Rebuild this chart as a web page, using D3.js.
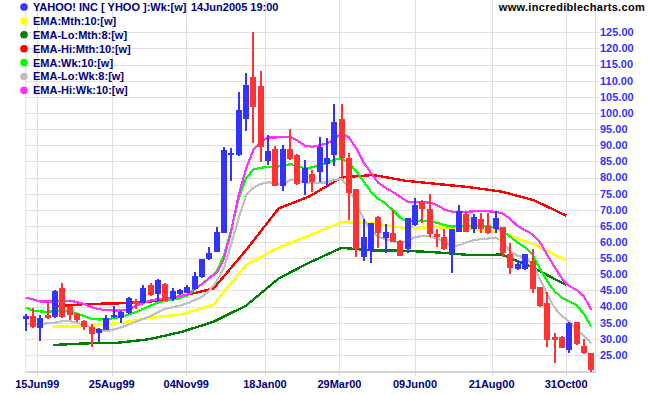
<!DOCTYPE html>
<html>
<head>
<meta charset="utf-8">
<script src="https://cdn.jsdelivr.net/npm/d3@7"></script>
<style>
  body { margin: 0; background: #fff; }
  svg { display: block; }
  text { font-family: "Liberation Sans", Arial, sans-serif; font-weight: bold; font-size: 11px; }
</style>
</head>
<body>
<svg id="svg"></svg>
<script>
// weekly YHOO bars, first week ending 04 Jun 1999
const firstWeek = "1999-06-04";
const openPx = [36.2,37.0,33.3,37.3,36.8,45.8,40.1,37.8,35.5,33.6,31.8,32.8,36.8,36.6,38.0,41.8,41.1,46.7,43.9,47.0,
  42.2,43.9,44.3,45.3,49.1,54.6,57.0,62.9,87.0,87.0,98.1,111.0,108.3,85.2,88.7,77.5,88.7,87.0,78.2,81.1,
  81.8,84.1,87.0,98.0,86.0,76.3,55.5,57.2,67.9,61.4,62.7,60.3,57.7,65.3,72.7,70.2,62.5,61.5,56.5,63.2,
  68.6,64.2,67.0,65.0,64.2,64.6,56.3,51.6,51.6,54.2,46.0,41.0,30.7,30.7,26.5,35.1,27.8,25.5];
const highPx = [37.6,39.5,37.3,41.5,45.0,47.4,40.3,38.0,35.9,34.7,33.3,37.3,40.1,38.5,43.0,42.3,46.7,47.2,48.4,47.2,
  45.9,45.3,46.7,50.8,54.8,58.6,64.8,89.6,89.0,106.6,112.3,125.0,113.0,93.2,89.9,90.1,95.0,87.2,85.4,82.3,
  92.6,92.1,102.8,102.7,87.5,76.5,67.0,66.0,68.1,65.5,70.0,60.5,67.5,73.8,72.9,74.8,64.2,64.2,64.2,71.5,
  69.4,68.7,69.1,69.1,69.7,64.8,59.6,54.4,56.4,57.7,46.2,44.6,31.9,30.9,35.3,35.3,30.0,25.7];
const lowPx = [32.4,33.4,29.3,36.2,36.6,36.6,35.9,35.2,32.6,27.4,29.0,32.6,36.6,34.9,37.8,39.4,41.0,43.3,41.8,41.6,
  41.8,43.6,44.1,45.1,48.9,54.4,56.8,62.7,78.9,86.8,94.5,90.6,84.9,83.9,77.3,75.9,85.4,77.7,74.6,75.6,
  78.7,77.1,83.5,80.3,66.8,55.5,54.2,53.6,58.3,56.5,59.9,55.6,56.5,65.1,65.8,61.7,58.6,57.6,50.3,63.0,
  63.0,62.7,62.7,62.5,62.7,55.5,50.1,51.4,51.4,44.1,40.0,27.6,22.6,27.1,25.7,28.2,25.3,19.8];
const closePx = [37.0,33.6,36.6,36.6,44.8,36.8,37.3,35.7,33.6,31.6,33.1,36.6,37.5,38.3,42.7,40.7,45.8,43.5,48.2,41.8,
  44.8,45.1,46.1,49.5,54.6,56.7,63.2,88.5,87.7,100.9,108.7,101.7,89.5,88.2,77.5,88.7,85.6,77.9,82.8,78.5,
  89.5,86.1,97.2,86.0,75.1,57.7,61.7,65.8,62.7,63.0,60.1,55.8,67.3,71.5,70.2,62.5,61.7,57.8,64.0,69.7,
  63.2,67.9,64.2,62.7,67.3,56.5,51.9,53.2,56.2,45.4,40.2,29.8,29.8,27.3,35.0,28.4,25.5,20.3];

// weekly EMAs
const emaWk10 = [39.7,38.8,38.5,38.4,38.6,38.8,38.5,37.8,37.0,36.2,36.0,36.1,36.4,36.9,37.5,38.3,39.3,40.3,41.2,41.8,
  42.2,42.6,43.4,45.3,47.0,48.9,50.8,56.0,63.9,73.5,79.8,82.5,83.0,83.3,83.3,83.6,84.2,83.6,82.8,83.2,
  83.8,84.3,85.5,85.9,84.5,82.0,78.8,75.6,73.4,72.0,69.8,67.5,66.3,66.5,66.7,66.3,66.0,65.3,64.8,64.9,
  65.0,65.1,65.0,64.9,64.6,63.2,61.6,59.8,58.3,56.0,51.8,47.9,44.7,42.8,41.6,40.5,37.7,33.8];
const emaLoWk8 = [34.5,34.5,34.6,34.8,35.0,35.5,35.5,35.0,34.3,33.5,32.8,32.4,32.9,33.6,34.4,35.3,36.2,37.1,38.3,39.3,
  39.8,40.3,41.0,42.0,43.0,45.0,47.8,52.0,59.5,67.5,74.5,76.8,78.0,78.5,78.3,77.8,79.2,79.3,78.4,78.2,
  78.4,78.5,79.2,79.6,76.8,71.8,67.2,63.5,61.7,60.9,60.3,59.7,60.4,61.5,61.9,61.8,61.1,60.2,58.6,59.0,
  59.9,60.6,60.9,61.1,61.4,60.0,57.0,55.8,55.1,53.3,48.6,43.7,39.6,37.1,35.4,32.8,31.0,28.6];
const emaHiWk10 = [42.8,42.2,41.6,41.6,41.6,41.7,41.8,41.4,40.8,39.8,39.2,38.9,38.8,38.8,39.2,40.2,41.1,41.9,42.3,42.6,
  42.7,43.3,43.7,45.5,47.0,48.8,50.5,55.0,63.7,74.6,82.8,88.5,91.1,92.4,92.4,92.6,92.6,91.4,89.9,89.5,
  90.0,90.6,91.6,93.8,92.5,89.0,84.7,81.5,78.3,76.8,75.5,74.0,72.5,72.3,72.4,72.2,71.5,70.1,69.4,69.4,
  69.4,69.5,69.5,69.5,69.4,68.8,67.1,64.9,63.6,62.4,60.0,56.0,52.3,48.7,46.4,45.1,43.2,39.0];

// monthly EMAs, one point per month end
const monthEnds = ["1999-06-30","1999-07-31","1999-08-31","1999-09-30","1999-10-31","1999-11-30","1999-12-31",
  "2000-01-31","2000-02-29","2000-03-31","2000-04-30","2000-05-31","2000-06-30","2000-07-31","2000-08-31",
  "2000-09-30","2000-10-31"];
const emaMth10 = [33.8,33.9,34.9,36.5,37.6,40.6,52.9,58.3,62.0,66.2,65.8,64.3,64.6,64.2,63.0,59.3,54.4];
const emaLoMth8 = [28.1,28.6,28.8,29.9,32.2,35.3,40.3,48.7,53.6,58.2,57.4,57.3,56.8,56.0,56.1,52.0,46.7];
const emaHiMth10 = [40.0,40.8,41.0,41.5,43.3,45.6,57.5,70.4,74.1,80.0,80.8,79.0,78.0,77.0,75.6,73.0,68.2];

const dateTicks = ["15Jun99","25Aug99","04Nov99","18Jan00","29Mar00","09Jun00","21Aug00","31Oct00"];
const priceTicks = d3.range(25, 126, 5);

const legendItems = [
  {label: "EMA:Mth:10:[w]", color: "#ffff00"},
  {label: "EMA-Lo:Mth:8:[w]", color: "#008000"},
  {label: "EMA-Hi:Mth:10:[w]", color: "#ff0000"},
  {label: "EMA:Wk:10:[w]", color: "#00ff00"},
  {label: "EMA-Lo:Wk:8:[w]", color: "#c0c0c0"},
  {label: "EMA-Hi:Wk:10:[w]", color: "#ff33ff"}
];

function sketch() {
  let svg = d3.select("#svg").attr("width", 651).attr("height", 395);
  let parseIso = d3.timeParse("%Y-%m-%d");
  let parseTick = d3.timeParse("%d%b%y");
  let fmtTick = d3.timeFormat("%d%b%y");

  let start = parseIso(firstWeek);
  let weeks = closePx.map((d, i) => d3.timeDay.offset(start, 7 * i));
  let months = monthEnds.map(parseIso);

  let plotLeft = 25.7, plotRight = 595, plotBottom = 372;
  let x = d3.scaleTime().domain([weeks[0], weeks[weeks.length - 1]]).range([25.7, 591.3]);
  let y = d3.scaleLinear().domain([25, 125]).range([355, 32.3]);

  let blue = "#3333ff", red = "#ff3333", grid = "#e0e0e0";

  let g = svg.append("g");

  // grid
  g.selectAll("line.hgrid").data(priceTicks).enter().append("line")
    .attr("x1", plotLeft).attr("x2", 600)
    .attr("y1", d => Math.round(y(d)) + 0.5).attr("y2", d => Math.round(y(d)) + 0.5)
    .attr("stroke", grid).attr("stroke-width", 1);
  g.selectAll("line.vgrid").data(dateTicks).enter().append("line")
    .attr("x1", d => Math.round(x(parseTick(d))) + 0.5).attr("x2", d => Math.round(x(parseTick(d))) + 0.5)
    .attr("y1", 0).attr("y2", 376)
    .attr("stroke", grid).attr("stroke-width", 1);
  g.append("line").attr("x1", plotLeft).attr("x2", plotLeft).attr("y1", 0).attr("y2", plotBottom)
    .attr("stroke", grid);
  g.append("line").attr("x1", plotRight + 0.5).attr("x2", plotRight + 0.5).attr("y1", 0).attr("y2", plotBottom)
    .attr("stroke", grid);
  g.append("line").attr("x1", plotLeft).attr("x2", plotRight + 1).attr("y1", plotBottom).attr("y2", plotBottom)
    .attr("stroke", "#d4d4d4").attr("stroke-width", 2);

  // axis labels
  g.selectAll("text.price").data(priceTicks).enter().append("text")
    .attr("x", 600).attr("y", d => y(d)).attr("dy", "0.35em")
    .attr("fill", blue).text(d3.format(".2f"));
  g.selectAll("text.date").data(dateTicks).enter().append("text")
    .attr("x", d => x(parseTick(d))).attr("y", 388)
    .attr("text-anchor", "middle").attr("fill", "#000080")
    .text(d => fmtTick(parseTick(d)));

  // EMA lines, drawn jagged like the original
  let weekLine = d3.line().x((d, i) => x(weeks[i])).y(d => y(d));
  let monthLine = d3.line().x((d, i) => x(months[i])).y(d => y(d));
  [[emaMth10, "#ffff00"], [emaLoMth8, "#008000"], [emaHiMth10, "#ff0000"]].forEach(([vals, c]) => {
    g.append("path").attr("d", monthLine(vals)).attr("fill", "none")
      .attr("stroke", c).attr("stroke-width", 2.4).attr("shape-rendering", "crispEdges");
  });
  [[emaWk10, "#00ff00"], [emaLoWk8, "#c0c0c0"], [emaHiWk10, "#ff33ff"]].forEach(([vals, c]) => {
    g.append("path").attr("d", weekLine(vals)).attr("fill", "none")
      .attr("stroke", c).attr("stroke-width", 2.2).attr("shape-rendering", "crispEdges");
  });

  // candles
  let bars = g.selectAll("g.bar").data(closePx).enter().append("g").attr("class", "bar")
    .attr("fill", (d, i) => d >= openPx[i] ? blue : red)
    .attr("shape-rendering", "crispEdges");
  bars.append("rect")
    .attr("x", (d, i) => Math.round(x(weeks[i])) - 1)
    .attr("width", 2)
    .attr("y", (d, i) => y(highPx[i]))
    .attr("height", (d, i) => y(lowPx[i]) - y(highPx[i]));
  bars.append("rect")
    .attr("x", (d, i) => Math.round(x(weeks[i])) - 3)
    .attr("width", 6)
    .attr("y", (d, i) => y(Math.max(d, openPx[i])))
    .attr("height", (d, i) => Math.max(2, Math.abs(y(d) - y(openPx[i]))));

  // legend
  let legend = svg.append("g");
  let rows = [{label: "YAHOO! INC [ YHOO ]:Wk:[w]", color: blue}].concat(legendItems);
  rows.forEach((r, k) => {
    let cy = 7 + k * 13.9;
    legend.append("circle").attr("cx", 24).attr("cy", cy).attr("r", 3.8).attr("fill", r.color);
    legend.append("text").attr("x", 33).attr("y", cy).attr("dy", "0.36em")
      .attr("fill", "#000080").text(r.label);
  });
  legend.append("text").attr("x", 191).attr("y", 7).attr("dy", "0.36em")
    .attr("fill", "#000080").text("14Jun2005 19:00");

  svg.append("text").attr("x", 645).attr("y", 7).attr("dy", "0.36em")
    .attr("text-anchor", "end").attr("fill", "#000").attr("letter-spacing", "0.3px")
    .text("www.incrediblecharts.com");
}

sketch();
</script>
</body>
</html>
